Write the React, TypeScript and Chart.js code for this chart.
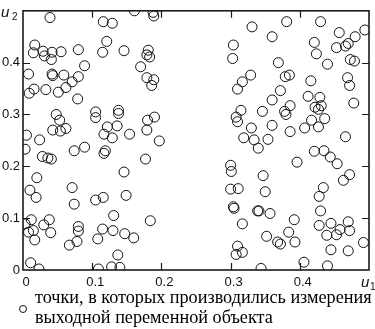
import React, { useEffect, useRef } from "react";
import { Chart, registerables } from "chart.js";

Chart.register(...registerables);

// u1 (x) and u2 (y) coordinates of measurement points
const u1Values: number[] = [
  // left group
  0.039, 0.116, 0.129, 0.161, 0.188, 0.189,
  0.017, 0.015, 0.029, 0.031, 0.042, 0.041, 0.055, 0.080, 0.121, 0.115, 0.146, 0.181, 0.179, 0.183, 0.170, 0.089,
  0.008, 0.042, 0.043, 0.059, 0.080, 0.071, 0.062, 0.051, 0.033, 0.016, 0.009, 0.079, 0.179, 0.189, 0.186,
  0.048, 0.053, 0.043, 0.054, 0.062, 0.105, 0.105, 0.138, 0.138, 0.136, 0.122, 0.117, 0.129, 0.154, 0.179, 0.180, 0.190, 0.005, 0.024, 0.197,
  0.003, 0.028, 0.036, 0.041, 0.074, 0.089, 0.119, 0.117, 0.177, 0.146, 0.020, 0.010, 0.019, 0.071, 0.074, 0.105, 0.116, 0.149,
  0.012, 0.038, 0.003, 0.030, 0.015, 0.008, 0.040, 0.017, 0.080, 0.080, 0.078, 0.067, 0.131, 0.115, 0.130, 0.108, 0.147, 0.160, 0.184, 0.137, 0.011, 0.023, 0.109, 0.128, 0.140,
  // right group
  0.331, 0.381, 0.430, 0.494, 0.457, 0.480, 0.360, 0.304, 0.303, 0.421, 0.424, 0.453, 0.466, 0.470, 0.369, 0.440, 0.473, 0.479,
  0.329, 0.317, 0.310, 0.379, 0.385, 0.416, 0.372, 0.360, 0.469, 0.472, 0.412, 0.429, 0.422, 0.427, 0.431, 0.478,
  0.315, 0.308, 0.310, 0.346, 0.378, 0.380, 0.386, 0.330, 0.360, 0.386, 0.407, 0.417, 0.427, 0.436, 0.319, 0.334, 0.354, 0.466,
  0.340, 0.421, 0.435, 0.444, 0.454, 0.396, 0.300, 0.301, 0.347, 0.472, 0.463, 0.300, 0.311, 0.350, 0.434, 0.428, 0.304, 0.305, 0.339, 0.341, 0.357, 0.430,
  0.317, 0.392, 0.384, 0.428, 0.445, 0.470, 0.472, 0.458, 0.453, 0.439, 0.352, 0.368, 0.372, 0.393, 0.492, 0.310, 0.308, 0.317, 0.445, 0.470, 0.406, 0.344, 0.440,
];

const u2Values: number[] = [
  // left group
  0.487, 0.479, 0.476, 0.500, 0.497, 0.490,
  0.434, 0.419, 0.422, 0.413, 0.420, 0.406, 0.421, 0.425, 0.441, 0.420, 0.423, 0.424, 0.415, 0.411, 0.392, 0.394,
  0.378, 0.378, 0.375, 0.376, 0.373, 0.363, 0.352, 0.343, 0.348, 0.349, 0.341, 0.330, 0.371, 0.367, 0.356,
  0.300, 0.289, 0.270, 0.268, 0.273, 0.305, 0.294, 0.308, 0.302, 0.278, 0.276, 0.262, 0.255, 0.262, 0.270, 0.289, 0.295, 0.260, 0.251, 0.249,
  0.233, 0.219, 0.216, 0.214, 0.230, 0.237, 0.230, 0.225, 0.214, 0.189, 0.178, 0.154, 0.140, 0.159, 0.127, 0.135, 0.140, 0.144,
  0.097, 0.097, 0.089, 0.087, 0.076, 0.073, 0.072, 0.058, 0.084, 0.075, 0.055, 0.048, 0.105, 0.079, 0.076, 0.060, 0.070, 0.062, 0.095, 0.029, 0.014, 0.002, 0.002, 0.006, 0.005,
  // right group
  0.469, 0.479, 0.479, 0.463, 0.458, 0.450, 0.450, 0.434, 0.408, 0.439, 0.417, 0.429, 0.432, 0.437, 0.400, 0.397, 0.406, 0.403,
  0.376, 0.363, 0.349, 0.373, 0.376, 0.365, 0.346, 0.328, 0.371, 0.356, 0.335, 0.333, 0.314, 0.310, 0.317, 0.322,
  0.308, 0.295, 0.286, 0.306, 0.306, 0.300, 0.317, 0.274, 0.279, 0.267, 0.274, 0.289, 0.276, 0.292, 0.255, 0.251, 0.252, 0.257,
  0.235, 0.229, 0.230, 0.218, 0.205, 0.208, 0.202, 0.190, 0.182, 0.184, 0.173, 0.156, 0.157, 0.151, 0.159, 0.142, 0.122, 0.119, 0.114, 0.114, 0.109, 0.114,
  0.089, 0.097, 0.073, 0.086, 0.090, 0.093, 0.076, 0.078, 0.068, 0.067, 0.065, 0.054, 0.050, 0.054, 0.053, 0.046, 0.030, 0.034, 0.039, 0.037, 0.015, 0.003, 0.008,
];

const xTickValues = [0, 0.1, 0.2, 0.3, 0.4];
const yTickValues = [0, 0.1, 0.2, 0.3, 0.4];
const xAxisName = "u";
const xAxisSub = "1";
const yAxisName = "u";
const yAxisSub = "2";
const legendLines = [
  "точки, в которых производились измерения",
  "выходной переменной объекта",
];

const fmt = (v: number) => {
  if (Math.abs(v) < 1e-9) return "0";
  if (v > 0.45) return "";
  return v.toFixed(1);
};

const framePlugin = {
  id: "frame",
  afterDraw(chart: any) {
    const { ctx, chartArea: a, scales } = chart;
    const xs = scales.x;
    const ys = scales.y;
    const tl = 7;
    ctx.save();
    ctx.strokeStyle = "#1a1a1a";
    ctx.lineWidth = 1.2;
    ctx.beginPath();
    for (const v of xTickValues) {
      if (v === 0) continue;
      const px = Math.round(xs.getPixelForValue(v)) + 0.5;
      ctx.moveTo(px, a.bottom);
      ctx.lineTo(px, a.bottom - tl);
      ctx.moveTo(px, a.top);
      ctx.lineTo(px, a.top + tl);
    }
    for (const v of yTickValues) {
      if (v === 0) continue;
      const py = Math.round(ys.getPixelForValue(v)) + 0.5;
      ctx.moveTo(a.left, py);
      ctx.lineTo(a.left + tl, py);
      ctx.moveTo(a.right, py);
      ctx.lineTo(a.right - tl, py);
    }
    ctx.stroke();
    ctx.lineWidth = 1.6;
    ctx.strokeRect(a.left, a.top, a.right - a.left, a.bottom - a.top);

    ctx.fillStyle = "#111";
    ctx.textBaseline = "alphabetic";
    ctx.textAlign = "left";
    // y axis name (top-left)
    ctx.font = 'italic 15px "Liberation Sans"';
    ctx.fillText(yAxisName, 1, 17);
    ctx.font = '10px "Liberation Sans"';
    ctx.fillText(yAxisSub, 12, 20);
    // x axis name (bottom-right)
    ctx.font = 'italic 15px "Liberation Sans"';
    ctx.fillText(xAxisName, 361, 287);
    ctx.font = '10px "Liberation Sans"';
    ctx.fillText(xAxisSub, 370, 290);
    ctx.restore();
  },
};

export default function App() {
  const canvasRef = useRef<HTMLCanvasElement | null>(null);

  useEffect(() => {
    const canvas = canvasRef.current;
    if (!canvas) return;
    const points = u1Values.map((x, i) => ({ x, y: u2Values[i] }));
    const chart = new Chart(canvas, {
      type: "scatter",
      data: {
        datasets: [
          {
            data: points,
            pointRadius: 5,
            pointHoverRadius: 5,
            pointBorderWidth: 1,
            borderColor: "#111",
            backgroundColor: "rgba(0,0,0,0)",
            pointStyle: "circle",
          },
        ],
      },
      options: {
        animation: false,
        responsive: false,
        maintainAspectRatio: false,
        events: [],
        layout: { padding: { top: 5, right: 4, left: 0, bottom: 0 } },
        plugins: {
          legend: { display: false },
          tooltip: { enabled: false },
        },
        scales: {
          x: {
            type: "linear",
            min: 0,
            max: 0.5,
            grid: { display: false, drawTicks: false },
            border: { display: false },
            ticks: {
              stepSize: 0.1,
              callback: (v: any) => fmt(Number(v)),
              font: { family: "Liberation Sans", size: 13 },
              color: "#111",
              padding: 5,
              labelOffset: 3,
              maxRotation: 0,
              autoSkip: false,
            },
            afterFit: (s: any) => {
              s.height = 20;
            },
          },
          y: {
            type: "linear",
            min: 0,
            max: 0.5,
            grid: { display: false, drawTicks: false },
            border: { display: false },
            ticks: {
              stepSize: 0.1,
              callback: (v: any) => fmt(Number(v)),
              font: { family: "Liberation Sans", size: 13 },
              color: "#111",
              padding: 3,
              autoSkip: false,
            },
            afterFit: (s: any) => {
              s.width = 23;
            },
          },
        },
      },
      plugins: [framePlugin],
    });
    return () => chart.destroy();
  }, []);

  return (
    <div style={{ position: "relative", width: 375, height: 329, background: "#fff" }}>
      <style>{`body{margin:0;background:#fff}`}</style>
      <canvas ref={canvasRef} width={375} height={290} style={{ position: "absolute", left: 0, top: 0 }} />
      <div
        style={{
          position: "absolute",
          left: 19,
          top: 305,
          width: 6,
          height: 6,
          border: "1px solid #111",
          borderRadius: "50%",
        }}
      />
      <div
        style={{
          position: "absolute",
          left: 35,
          top: 287,
          fontFamily: '"Liberation Serif", serif',
          fontSize: 18.2,
          lineHeight: "20px",
          color: "#000",
          whiteSpace: "nowrap",
        }}
      >
        {legendLines.map((l, i) => (
          <div key={i}>{l}</div>
        ))}
      </div>
    </div>
  );
}
